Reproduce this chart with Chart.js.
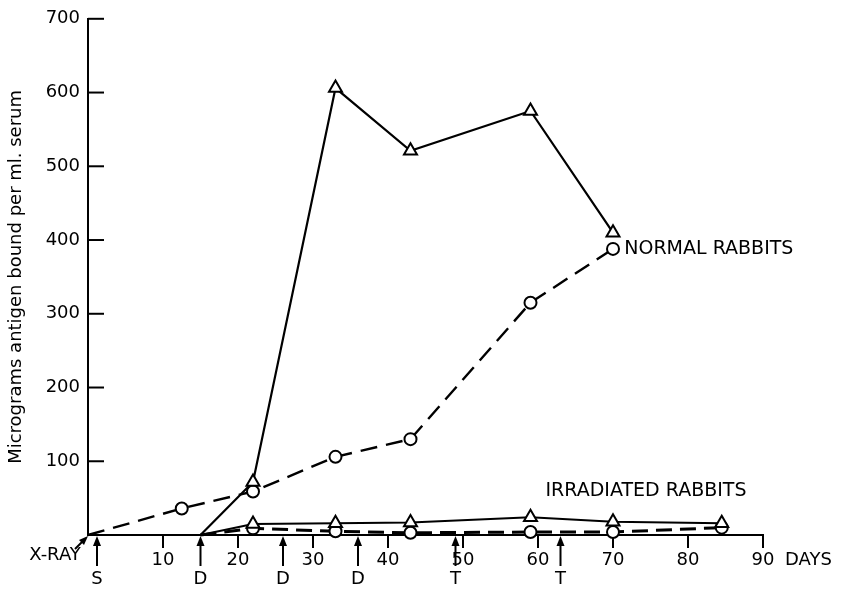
<!DOCTYPE html>
<html>
<head>
<meta charset="utf-8">
<script src="https://cdn.jsdelivr.net/npm/chart.js@4.4.1/dist/chart.umd.min.js"></script>
<style>
  html, body { margin: 0; padding: 0; background: #fff; }
  #wrap { width: 846px; height: 590px; }
</style>
</head>
<body>
<div id="wrap"><canvas id="grafica"></canvas></div>
<script>
// datos (dias, microgramos por ml)
const normalTriDays = [15, 22, 33, 43, 59, 70];
const normalTriValues = [0, 72, 606, 521, 575, 410];
const normalCircDays = [0, 12.5, 22, 33, 43, 59, 70];
const normalCircValues = [0, 36, 59, 106, 130, 315, 388];
const irrTriDays = [15, 22, 33, 43, 59, 70, 84.5];
const irrTriValues = [0, 15, 16, 17, 24, 18, 16];
const irrCircDays = [15, 22, 33, 43, 59, 70, 84.5];
const irrCircValues = [0, 9, 5, 3, 4, 4, 10];

// flechas debajo del eje (S = ?, D = dosis, T = ?)
const markDays = [1.2, 15, 26, 36, 49, 63];
const markLabels = ["S", "D", "D", "D", "T", "T"];

const xTicks = [10, 20, 30, 40, 50, 60, 70, 80, 90];
const yTicks = [100, 200, 300, 400, 500, 600, 700];

function puntos(dias, valores) {
    return dias.map((d, i) => ({ x: d, y: valores[i] }));
}
// sin marcador en el punto de arranque
function radios(n, r) {
    return Array.from({ length: n }, (_, i) => i === 0 ? 0 : r);
}

Chart.defaults.font.family = "'DejaVu Sans', sans-serif";
Chart.defaults.color = "#000";

const anotaciones = {
    id: "anotaciones",
    afterDraw(chart) {
        const ctx = chart.ctx;
        const xs = chart.scales.x;
        const ys = chart.scales.y;
        const base = ys.getPixelForValue(0);
        ctx.save();
        ctx.strokeStyle = "#000";
        ctx.fillStyle = "#000";
        ctx.lineWidth = 2;

        // marcas del eje y hacia adentro
        ys.ticks.forEach(t => {
            const py = ys.getPixelForValue(t.value);
            ctx.beginPath();
            ctx.moveTo(xs.left, py);
            ctx.lineTo(xs.left + 16, py);
            ctx.stroke();
        });

        // flechas con letras
        ctx.font = "18px 'DejaVu Sans'";
        ctx.textAlign = "center";
        ctx.textBaseline = "middle";
        markDays.forEach((d, i) => {
            const px = xs.getPixelForValue(d);
            ctx.beginPath();
            ctx.moveTo(px, base + 31);
            ctx.lineTo(px, base + 8);
            ctx.stroke();
            ctx.beginPath();
            ctx.moveTo(px, base + 1);
            ctx.lineTo(px - 4, base + 11);
            ctx.lineTo(px + 4, base + 11);
            ctx.closePath();
            ctx.fill();
            ctx.fillText(markLabels[i], px, base + 44);
        });

        // X-RAY
        const x0 = xs.getPixelForValue(0);
        ctx.fillText("X-RAY", x0 - 33, base + 20);
        ctx.beginPath();
        ctx.moveTo(x0 - 13, base + 14);
        ctx.lineTo(x0 - 4, base + 5);
        ctx.stroke();
        ctx.beginPath();
        ctx.moveTo(x0, base + 1);
        ctx.lineTo(x0 - 9, base + 5);
        ctx.lineTo(x0 - 4, base + 10);
        ctx.closePath();
        ctx.fill();

        // DAYS
        ctx.textAlign = "left";
        ctx.fillText("DAYS", xs.right + 22, base + 25);

        // rotulos de las series
        ctx.font = "19px 'DejaVu Sans'";
        ctx.fillText("NORMAL RABBITS", xs.getPixelForValue(71.5), ys.getPixelForValue(388));
        ctx.fillText("IRRADIATED RABBITS", xs.getPixelForValue(61), ys.getPixelForValue(60));
        ctx.restore();
    }
};

const ctx = document.getElementById("grafica").getContext("2d");

new Chart(ctx, {
    type: "line",
    data: {
        datasets: [
            {
                label: "Normal (triángulos)",
                data: puntos(normalTriDays, normalTriValues),
                borderColor: "#000",
                borderWidth: 2.2,
                pointStyle: "triangle",
                pointRadius: radios(normalTriDays.length, 7.5),
                pointBackgroundColor: "#fff",
                pointBorderColor: "#000",
                pointBorderWidth: 2,
                clip: false
            },
            {
                label: "Normal (círculos)",
                data: puntos(normalCircDays, normalCircValues),
                borderColor: "#000",
                borderWidth: 2.4,
                borderDash: [17, 9],
                pointStyle: "circle",
                pointRadius: radios(normalCircDays.length, 6),
                pointBackgroundColor: "#fff",
                pointBorderColor: "#000",
                pointBorderWidth: 2,
                clip: false
            },
            {
                label: "Irradiados (triángulos)",
                data: puntos(irrTriDays, irrTriValues),
                borderColor: "#000",
                borderWidth: 2,
                pointStyle: "triangle",
                pointRadius: radios(irrTriDays.length, 7.5),
                pointBackgroundColor: "#fff",
                pointBorderColor: "#000",
                pointBorderWidth: 2,
                clip: false
            },
            {
                label: "Irradiados (círculos)",
                data: puntos(irrCircDays, irrCircValues),
                borderColor: "#000",
                borderWidth: 3,
                borderDash: [16, 8],
                pointStyle: "circle",
                pointRadius: radios(irrCircDays.length, 6),
                pointBackgroundColor: "#fff",
                pointBorderColor: "#000",
                pointBorderWidth: 2,
                clip: false
            }
        ]
    },
    options: {
        responsive: true,
        maintainAspectRatio: false,
        animation: false,
        layout: { padding: { left: 0, top: 15, right: 83, bottom: 0 } },
        plugins: {
            legend: { display: false },
            tooltip: { enabled: false }
        },
        elements: { line: { tension: 0 } },
        scales: {
            x: {
                type: "linear",
                min: 0,
                max: 90,
                afterBuildTicks: s => { s.ticks = xTicks.map(v => ({ value: v })); },
                afterFit: s => { s.height = 55; },
                ticks: { font: { size: 18 }, padding: 2 },
                grid: {
                    drawOnChartArea: false,
                    tickLength: 13,
                    color: "#000",
                    lineWidth: 2
                },
                border: { color: "#000", width: 2 }
            },
            y: {
                min: 0,
                max: 700,
                afterBuildTicks: s => { s.ticks = yTicks.map(v => ({ value: v })); },
                afterFit: s => { s.width = 88; },
                ticks: { font: { size: 18 }, padding: 8 },
                grid: { display: false, drawTicks: false, tickLength: 0 },
                border: { color: "#000", width: 2 },
                title: {
                    display: true,
                    text: "Micrograms antigen bound per ml. serum",
                    font: { size: 18 },
                    padding: { top: 6, bottom: 0 }
                }
            }
        }
    },
    plugins: [anotaciones]
});
</script>
</body>
</html>
